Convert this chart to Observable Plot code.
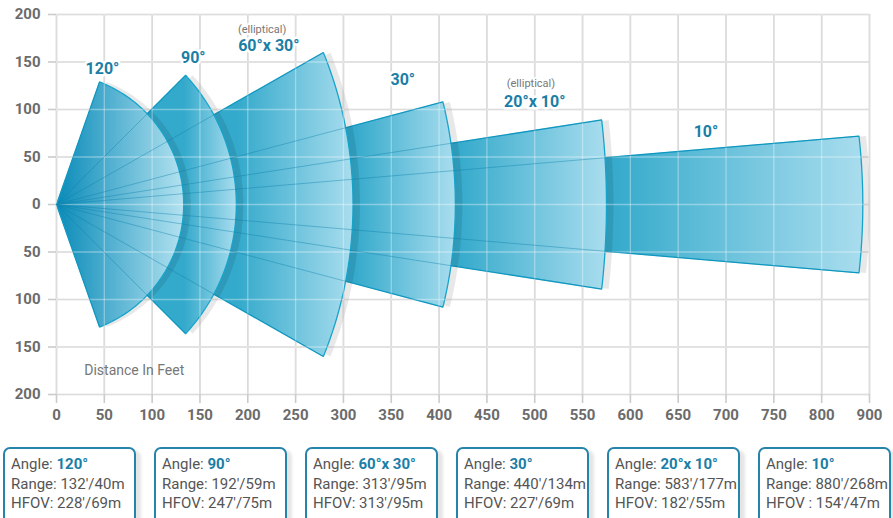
<!DOCTYPE html>
<html><head><meta charset="utf-8">
<script src="https://cdn.jsdelivr.net/npm/d3@7"></script>
<script src="https://cdn.jsdelivr.net/npm/@observablehq/plot@0.6"></script>
<style>
body{margin:0;background:#fff;font-family:Roboto,sans-serif;overflow:hidden}
#wrap{width:893px;height:518px;overflow:hidden;position:relative}
#boxes{position:relative;height:90px}
.box{position:absolute;top:7px;width:133px;height:84px;border:2px solid #2683aa;border-radius:7px;box-shadow:5px 3px 3px rgba(0,0,0,0.10);box-sizing:border-box;padding:6px 0 0 6px;font-size:15px;line-height:19.5px;color:#555;background:#fff;white-space:nowrap}
.box b{color:#1a7ea6}
</style></head>
<body><div id="wrap"><div id="chart"></div><div id="boxes"></div></div>
<script>
// ---- data ----
const wedgeNames = ["120°", "90°", "60°x 30°", "30°", "20°x 10°", "10°"];
const tipX  = [45, 135, 279, 404, 570, 839];
const tipY  = [129, 136, 160, 108, 89, 72];
const apexX = [133, 188, 310, 417, 575, 843];
const labelX = [48, 143, 222, 362, 500, 679];
const labelY = [143, 154, 166.5, 131, 108.5, 76];
const noteLabels = ["(elliptical)", "(elliptical)"];
const noteX = [215, 496];
const noteY = [184.5, 127.5];
const xTicks = [0, 50, 100, 150, 200, 250, 300, 350, 400, 450, 500, 550, 600, 650, 700, 750, 800, 850];
const xTickLabels = ["0","50","100","150","200","250","300","350","400","450","500","550","600","650","700","750","800","900"];
const yTicks = [-200, -150, -100, -50, 0, 50, 100, 150, 200];
const yTickLabels = ["200","150","100","50","0","50","100","150","200"];
const boxAngles = ["120°", "90°", "60°x 30°", "30°", "20°x 10°", "10°"];
const boxRanges = ["132′/40m", "192′/59m", "313′/95m", "440′/134m", "583′/177m", "880′/268m"];
const boxHfovLabels = ["HFOV:", "HFOV:", "HFOV:", "HFOV:", "HFOV:", "HFOV :"];
const boxHfovs = ["228′/69m", "247′/75m", "313′/95m", "227′/69m", "182′/55m", "154′/47m"];
const axisNote = "Distance In Feet";

// ---- geometry from read values ----
function wedgePoints(i) {
  const tx = tipX[i], ty = tipY[i], ax = apexX[i];
  const c = (ax * ax - tx * tx - ty * ty) / (2 * (ax - tx));
  const R = ax - c;
  const t0 = Math.atan2(ty, tx - c);
  const pts = [{x: 0, y: 0}];
  const n = 80;
  for (let k = 0; k <= n; k++) {
    const t = t0 - 2 * t0 * k / n;
    pts.push({x: c + R * Math.cos(t), y: R * Math.sin(t)});
  }
  pts.push({x: 0, y: 0});
  return pts;
}

const ns = "http://www.w3.org/2000/svg";
function defsMark() {
  const defs = document.createElementNS(ns, "defs");
  wedgeNames.forEach((_, i) => {
    const g = document.createElementNS(ns, "linearGradient");
    g.setAttribute("id", "wg" + i);
    g.setAttribute("x1", i === 0 ? 0 : apexX[i - 1] / apexX[i]);
    g.setAttribute("x2", 1);
    g.setAttribute("y1", 0);
    g.setAttribute("y2", 0);
    const stops = i === 0 ? [[0, "#0a8bb9"], [1, "#b3e2f0"]] : [[0, "#33a9cb"], [1, "#a9ddee"]];
    for (const [o, col] of stops) {
      const s = document.createElementNS(ns, "stop");
      s.setAttribute("offset", o);
      s.setAttribute("stop-color", col);
      g.appendChild(s);
    }
    defs.appendChild(g);
  });
  return defs;
}

const idx = wedgeNames.map((_, i) => i);
const wedgeMarks = [];
for (let i = wedgeNames.length - 1; i >= 0; i--) {
  const pts = wedgePoints(i);
  wedgeMarks.push(Plot.line(pts, {x: "x", y: "y", curve: "linear", fill: "#000", fillOpacity: 0.09, stroke: "none", dx: 7}));
  wedgeMarks.push(Plot.line(pts, {x: "x", y: "y", curve: "linear", fill: `url(#wg${i})`, stroke: "#17a4cb", strokeWidth: 1.3, strokeLinejoin: "miter"}));
}

const edges = [];
idx.forEach(i => { edges.push({x: tipX[i], y: tipY[i]}); edges.push({x: tipX[i], y: -tipY[i]}); });

const chart = Plot.plot({
  width: 893,
  height: 440,
  marginLeft: 56,
  marginRight: 24,
  marginTop: 14,
  marginBottom: 46,
  style: {fontFamily: "Roboto, sans-serif", fontSize: "15px", background: "#fff"},
  x: {domain: [0, 850]},
  y: {domain: [-200, 200]},
  marks: [
    defsMark,
    Plot.gridX(xTicks, {stroke: "#cbcbcb", strokeOpacity: 1, strokeWidth: 1.6}),
    Plot.gridY(yTicks, {stroke: "#cbcbcb", strokeOpacity: 1, strokeWidth: 1.6}),
    ...wedgeMarks,
    Plot.gridX(xTicks, {stroke: "#fff", strokeOpacity: 0.35, strokeWidth: 1.3}),
    Plot.gridY(yTicks, {stroke: "#fff", strokeOpacity: 0.35, strokeWidth: 1.3}),
    Plot.link(edges, {x1: () => 0, y1: () => 0, x2: "x", y2: "y", stroke: "#0a7ea8", strokeOpacity: 0.45, strokeWidth: 0.9}),
    Plot.axisX({ticks: xTicks, tickFormat: d => xTickLabels[xTicks.indexOf(d)], tickSize: 9, tickPadding: 6, stroke: "#cbcbcb", strokeWidth: 1.6, fill: "#6b6b6b", fontSize: 15, fontWeight: "bold", label: null}),
    Plot.axisY({ticks: yTicks, tickFormat: d => yTickLabels[yTicks.indexOf(d)], tickSize: 8, tickPadding: 8, stroke: "#cbcbcb", strokeWidth: 1.6, fill: "#6b6b6b", fontSize: 15, fontWeight: "bold", label: null}),
    Plot.text(idx, {x: i => labelX[i], y: i => labelY[i], text: i => wedgeNames[i], fill: "#1b7ea6", fontSize: 16, fontWeight: "bold", stroke: "#fff", strokeWidth: 5}),
    Plot.text(noteLabels, {x: (d, i) => noteX[i], y: (d, i) => noteY[i], text: d => d, fill: "#777", fontSize: 11, stroke: "#fff", strokeWidth: 4}),
    Plot.text([axisNote], {x: 29, y: -175, text: d => d, textAnchor: "start", fill: "#777", fontSize: 14})
  ]
});
document.getElementById("chart").appendChild(chart);

const boxes = document.getElementById("boxes");
boxAngles.forEach((a, i) => {
  const div = document.createElement("div");
  div.className = "box";
  div.style.left = (3 + i * 151) + "px";
  div.innerHTML = `Angle: <b>${a}</b><br>Range: ${boxRanges[i]}<br>${boxHfovLabels[i]} ${boxHfovs[i]}`;
  boxes.appendChild(div);
});
</script>
</body></html>
